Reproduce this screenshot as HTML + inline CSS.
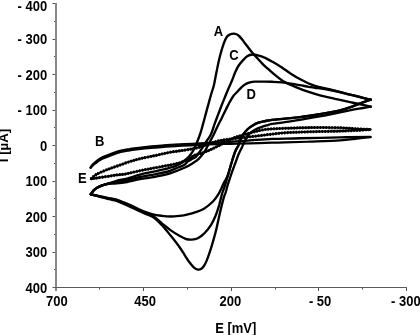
<!DOCTYPE html>
<html><head><meta charset="utf-8"><style>
html,body{margin:0;padding:0;background:#fff;width:420px;height:335px;overflow:hidden}
svg{display:block;filter:blur(0.35px)}
text{font-family:"Liberation Sans",sans-serif;font-weight:bold;font-size:13.0px;fill:#000}
</style></head><body>
<svg width="420" height="335" viewBox="0 0 420 335">
<rect width="420" height="335" fill="#fff"/>
<g stroke="#505050" stroke-width="1" fill="none"><line x1="52.5" y1="3.50" x2="56" y2="3.50"/><line x1="54.0" y1="21.50" x2="56" y2="21.50"/><line x1="52.5" y1="39.50" x2="56" y2="39.50"/><line x1="54.0" y1="56.50" x2="56" y2="56.50"/><line x1="52.5" y1="74.50" x2="56" y2="74.50"/><line x1="54.0" y1="92.50" x2="56" y2="92.50"/><line x1="52.5" y1="110.50" x2="56" y2="110.50"/><line x1="54.0" y1="127.50" x2="56" y2="127.50"/><line x1="52.5" y1="145.50" x2="56" y2="145.50"/><line x1="54.0" y1="163.50" x2="56" y2="163.50"/><line x1="52.5" y1="181.50" x2="56" y2="181.50"/><line x1="54.0" y1="198.50" x2="56" y2="198.50"/><line x1="52.5" y1="216.50" x2="56" y2="216.50"/><line x1="54.0" y1="234.50" x2="56" y2="234.50"/><line x1="52.5" y1="252.50" x2="56" y2="252.50"/><line x1="54.0" y1="269.50" x2="56" y2="269.50"/><line x1="52.5" y1="287.50" x2="56" y2="287.50"/><line x1="56.50" y1="287" x2="56.50" y2="291"/><line x1="99.50" y1="287" x2="99.50" y2="289.5"/><line x1="143.50" y1="287" x2="143.50" y2="291"/><line x1="187.50" y1="287" x2="187.50" y2="289.5"/><line x1="231.50" y1="287" x2="231.50" y2="291"/><line x1="275.50" y1="287" x2="275.50" y2="289.5"/><line x1="318.50" y1="287" x2="318.50" y2="291"/><line x1="362.50" y1="287" x2="362.50" y2="289.5"/><line x1="406.50" y1="287" x2="406.50" y2="291"/></g>
<line x1="56" y1="3" x2="56" y2="291" stroke="#888" stroke-width="2"/>
<line x1="53" y1="287.5" x2="407" y2="287.5" stroke="#5a5a5a" stroke-width="1.2"/>
<g fill="none" stroke="#000" stroke-linecap="round" stroke-linejoin="round">
<path d="M90.6,167.6 C90.9,167.1 91.8,165.7 92.6,164.8 C93.4,163.9 94.6,162.9 95.7,162.0 C96.8,161.1 97.8,160.3 99.0,159.5 C100.2,158.7 100.8,158.2 102.9,157.2 C105.1,156.2 108.9,154.7 111.9,153.6 C114.9,152.5 117.8,151.4 120.8,150.7 C123.8,149.9 125.8,149.7 129.8,149.1 C133.8,148.5 137.5,147.8 145.0,147.1 C152.5,146.4 164.2,145.5 175.0,144.8 C185.8,144.1 200.8,143.4 210.0,142.9 C219.2,142.4 223.3,142.2 230.0,141.8 C236.7,141.4 243.0,140.9 250.0,140.4 C257.0,139.9 263.7,139.2 272.0,138.9 C280.3,138.6 288.7,138.6 300.0,138.3 C311.3,138.1 328.2,137.6 340.0,137.4 C351.8,137.2 365.4,137.1 370.5,137.0" stroke-width="2.4"/>
<path d="M370.5,137.0 C367.9,137.3 360.1,138.2 355.0,138.8 C349.9,139.4 347.5,139.8 340.0,140.3 C332.5,140.8 319.2,141.3 310.0,141.7 C300.8,142.0 291.3,142.2 285.0,142.4 C278.7,142.6 277.8,142.5 272.0,142.7 C266.2,142.8 257.0,143.1 250.0,143.3 C243.0,143.5 236.7,143.6 230.0,143.8 C223.3,144.0 219.2,143.9 210.0,144.3 C200.8,144.7 185.8,145.4 175.0,146.1 C164.2,146.8 152.5,147.7 145.0,148.4 C137.5,149.1 133.8,149.8 129.8,150.4 C125.8,151.0 123.8,151.2 120.8,152.0 C117.8,152.8 114.9,153.8 111.9,154.9 C108.9,156.0 105.1,157.6 102.9,158.5 C100.8,159.4 100.2,159.8 99.0,160.6 C97.8,161.4 96.8,162.3 95.7,163.2 C94.6,164.0 93.4,164.9 92.6,165.7 C91.8,166.5 90.9,167.5 90.6,167.8" stroke-width="2.2"/>
<path d="M90.9,179.0 C91.8,178.2 93.7,176.0 96.4,174.4 C99.1,172.8 103.4,171.1 106.9,169.7 C110.4,168.3 113.5,167.3 117.3,166.0 C121.1,164.7 126.0,162.8 129.8,161.6 C133.6,160.4 135.8,159.7 140.0,158.7 C144.2,157.7 150.0,156.7 155.0,155.6 C160.0,154.5 164.2,153.4 170.0,152.3 C175.8,151.2 185.0,150.2 190.0,149.3 C195.0,148.4 196.7,148.0 200.0,147.0 C203.3,146.0 206.7,144.6 210.0,143.5 C213.3,142.4 215.8,141.3 220.0,140.5 C224.2,139.7 229.2,139.2 235.0,138.5 C240.8,137.8 246.7,137.1 255.0,136.2 C263.3,135.2 275.8,133.5 285.0,132.8 C294.2,132.1 300.8,132.1 310.0,131.8 C319.2,131.5 332.5,131.3 340.0,131.1 C347.5,130.9 349.9,130.8 355.0,130.5 C360.1,130.2 367.9,129.7 370.5,129.5" stroke-width="2.1"/>
<path d="M90.9,179.0 C91.8,178.2 93.7,176.0 96.4,174.4 C99.1,172.8 103.4,171.1 106.9,169.7 C110.4,168.3 113.5,167.3 117.3,166.0 C121.1,164.7 126.0,162.8 129.8,161.6 C133.6,160.4 135.8,159.7 140.0,158.7 C144.2,157.7 150.0,156.7 155.0,155.6 C160.0,154.5 164.2,153.4 170.0,152.3 C175.8,151.2 185.0,150.2 190.0,149.3 C195.0,148.4 196.7,148.0 200.0,147.0 C203.3,146.0 206.7,144.6 210.0,143.5 C213.3,142.4 215.8,141.3 220.0,140.5 C224.2,139.7 229.2,139.2 235.0,138.5 C240.8,137.8 246.7,137.1 255.0,136.2 C263.3,135.2 275.8,133.5 285.0,132.8 C294.2,132.1 300.8,132.1 310.0,131.8 C319.2,131.5 332.5,131.3 340.0,131.1 C347.5,130.9 349.9,130.8 355.0,130.5 C360.1,130.2 367.9,129.7 370.5,129.5" stroke-width="3.0" stroke-dasharray="1.6 1.3" stroke-linecap="butt"/>
<path d="M370.5,129.5 C367.9,129.4 360.1,129.0 355.0,128.7 C349.9,128.4 347.5,128.0 340.0,127.8 C332.5,127.6 319.2,127.5 310.0,127.6 C300.8,127.7 292.5,128.0 285.0,128.3 C277.5,128.6 270.8,128.7 265.0,129.5 C259.2,130.3 255.0,131.7 250.0,133.0 C245.0,134.3 239.2,135.9 235.0,137.5 C230.8,139.1 228.8,140.6 225.0,142.5 C221.2,144.4 215.7,147.3 212.0,149.0 C208.3,150.7 205.8,151.8 203.0,152.8 C200.2,153.8 197.8,153.7 195.0,155.0 C192.2,156.3 189.7,158.9 186.4,160.4 C183.1,161.9 180.2,162.8 175.0,164.0 C169.8,165.2 160.8,166.7 155.0,167.8 C149.2,168.9 144.8,169.7 140.0,170.7 C135.2,171.7 129.8,173.2 126.0,173.9 C122.2,174.6 120.5,174.5 117.3,174.9 C114.1,175.3 110.4,176.0 106.9,176.5 C103.4,177.0 99.1,177.7 96.4,178.1 C93.7,178.5 91.8,178.8 90.9,179.0" stroke-width="2.1"/>
<path d="M370.5,129.5 C367.9,129.4 360.1,129.0 355.0,128.7 C349.9,128.4 347.5,128.0 340.0,127.8 C332.5,127.6 319.2,127.5 310.0,127.6 C300.8,127.7 292.5,128.0 285.0,128.3 C277.5,128.6 270.8,128.7 265.0,129.5 C259.2,130.3 255.0,131.7 250.0,133.0 C245.0,134.3 239.2,135.9 235.0,137.5 C230.8,139.1 228.8,140.6 225.0,142.5 C221.2,144.4 215.7,147.3 212.0,149.0 C208.3,150.7 205.8,151.8 203.0,152.8 C200.2,153.8 197.8,153.7 195.0,155.0 C192.2,156.3 189.7,158.9 186.4,160.4 C183.1,161.9 180.2,162.8 175.0,164.0 C169.8,165.2 160.8,166.7 155.0,167.8 C149.2,168.9 144.8,169.7 140.0,170.7 C135.2,171.7 129.8,173.2 126.0,173.9 C122.2,174.6 120.5,174.5 117.3,174.9 C114.1,175.3 110.4,176.0 106.9,176.5 C103.4,177.0 99.1,177.7 96.4,178.1 C93.7,178.5 91.8,178.8 90.9,179.0" stroke-width="3.0" stroke-dasharray="1.6 1.3" stroke-linecap="butt"/>
<path d="M90.8,194.3 C91.3,193.7 92.6,191.5 93.7,190.4 C94.8,189.3 96.1,188.4 97.5,187.6 C98.9,186.8 100.7,186.0 102.3,185.4 C103.9,184.8 104.6,184.8 107.0,184.0 C109.4,183.2 113.3,181.7 116.6,180.8 C119.9,179.9 123.1,179.6 127.0,178.6 C130.9,177.6 135.3,175.8 140.0,174.6 C144.7,173.4 150.3,172.4 155.0,171.3 C159.7,170.2 164.3,169.3 168.0,168.3 C171.7,167.3 174.5,166.6 177.0,165.5 C179.5,164.4 181.0,163.3 183.0,161.8 C185.0,160.3 187.2,158.6 189.0,156.5 C190.8,154.4 192.2,152.9 194.0,149.3 C195.8,145.7 198.3,139.1 199.8,135.0 C201.3,130.9 201.8,128.4 202.8,124.9 C203.8,121.4 204.8,117.5 205.7,114.1 C206.6,110.7 207.5,107.4 208.3,104.6 C209.1,101.8 209.7,99.4 210.3,97.2 C210.9,95.0 211.3,93.7 212.0,91.5 C212.7,89.3 213.5,87.1 214.2,83.9 C214.9,80.7 215.6,76.3 216.4,72.5 C217.2,68.7 218.1,64.0 218.8,61.0 C219.5,58.0 219.6,57.4 220.4,54.5 C221.2,51.6 222.7,46.4 223.8,43.4 C224.9,40.4 225.8,38.2 226.9,36.7 C228.0,35.2 229.4,34.7 230.5,34.2 C231.6,33.7 232.5,33.6 233.5,33.6 C234.5,33.6 235.6,33.9 236.5,34.3 C237.4,34.7 238.1,35.2 239.0,36.0 C239.9,36.8 241.0,38.1 242.0,39.3 C243.0,40.5 243.6,41.5 245.1,43.4 C246.6,45.3 249.1,48.7 250.9,50.9 C252.7,53.1 254.0,54.5 256.0,56.8 C258.0,59.0 261.4,62.7 263.0,64.4 C264.6,66.1 264.0,65.2 265.7,66.8 C267.4,68.3 270.5,71.3 273.4,73.7 C276.2,76.1 279.8,79.0 282.8,80.9 C285.8,82.8 288.6,84.0 291.5,85.3 C294.4,86.6 297.3,87.8 300.2,88.9 C303.1,90.0 305.4,90.8 308.7,91.9 C312.0,93.0 315.6,94.2 320.0,95.4 C324.4,96.6 330.0,97.7 335.0,98.8 C340.0,99.9 345.3,101.1 350.0,102.1 C354.7,103.1 359.5,104.1 363.0,104.9 C366.5,105.7 369.5,106.4 370.8,106.7" stroke-width="2.35"/>
<path d="M370.8,106.7 C369.5,106.9 366.3,107.4 363.0,108.0 C359.7,108.6 355.8,109.1 350.8,110.1 C345.8,111.1 338.9,112.6 332.9,113.8 C326.9,115.0 320.5,116.2 315.0,117.2 C309.5,118.2 305.0,119.0 300.0,119.8 C295.0,120.6 289.7,121.5 285.0,122.2 C280.3,122.9 274.9,123.4 272.0,123.9 C269.1,124.4 269.5,124.6 267.8,125.1 C266.1,125.6 263.9,126.2 261.9,126.9 C259.9,127.6 257.7,128.4 255.9,129.3 C254.1,130.2 252.5,131.2 251.1,132.3 C249.7,133.4 248.7,134.5 247.6,136.0 C246.5,137.5 245.5,139.6 244.6,141.5 C243.7,143.4 243.0,145.1 242.0,147.2 C241.0,149.3 239.8,151.3 238.7,154.1 C237.5,156.8 236.4,160.2 235.1,163.7 C233.8,167.2 232.2,171.4 231.0,175.0 C229.8,178.6 228.6,182.0 227.7,185.0 C226.8,188.0 226.2,190.8 225.5,193.0 C224.8,195.2 224.6,194.7 223.7,197.9 C222.8,201.1 221.3,207.1 220.1,212.2 C218.9,217.3 217.6,223.7 216.5,228.4 C215.4,233.1 214.4,236.6 213.3,240.5 C212.2,244.4 211.0,248.4 209.9,251.7 C208.8,255.0 207.9,257.7 206.9,260.1 C205.9,262.5 204.9,264.5 203.9,266.0 C202.9,267.5 201.9,268.5 200.9,269.1 C199.9,269.7 199.0,269.8 197.9,269.6 C196.8,269.4 195.7,269.0 194.3,267.8 C192.9,266.6 191.2,264.6 189.6,262.5 C188.0,260.4 186.4,257.8 184.8,255.3 C183.2,252.8 182.1,250.8 179.8,247.5 C177.5,244.2 173.8,239.5 170.8,235.8 C167.8,232.1 164.9,228.2 161.9,225.1 C158.9,222.0 155.8,218.9 153.0,217.0 C150.2,215.1 147.6,214.7 145.1,213.6 C142.6,212.5 140.4,211.5 138.0,210.4 C135.6,209.3 133.3,208.2 130.9,207.1 C128.5,206.0 126.1,205.0 123.7,204.0 C121.3,203.0 119.0,201.7 116.6,200.9 C114.2,200.1 111.8,199.8 109.4,199.2 C107.0,198.6 104.5,198.0 102.3,197.4 C100.1,196.8 98.4,196.3 96.5,195.8 C94.6,195.3 91.8,194.6 90.8,194.3" stroke-width="2.35"/>
<path d="M90.8,194.3 C91.3,193.7 92.6,191.5 93.7,190.4 C94.8,189.3 96.1,188.4 97.5,187.6 C98.9,186.8 100.7,186.0 102.3,185.4 C103.9,184.8 104.6,184.5 107.0,184.0 C109.4,183.5 113.3,182.8 116.6,182.2 C119.9,181.6 123.1,181.2 127.0,180.3 C130.9,179.4 135.3,178.0 140.0,177.0 C144.7,176.0 150.3,175.2 155.0,174.3 C159.7,173.4 164.2,172.6 168.0,171.5 C171.8,170.4 175.3,168.6 178.0,167.5 C180.7,166.4 182.3,166.0 184.0,165.0 C185.7,164.0 186.6,162.3 188.0,161.3 C189.4,160.3 191.1,159.6 192.5,158.8 C193.9,158.0 194.7,158.3 196.3,156.5 C197.9,154.7 200.4,150.8 202.2,148.1 C204.0,145.4 205.5,142.8 207.0,140.5 C208.5,138.2 209.8,136.8 211.1,134.0 C212.4,131.2 213.5,127.0 214.7,123.7 C215.9,120.4 217.1,117.3 218.3,114.1 C219.5,110.9 220.8,107.5 221.9,104.6 C223.1,101.7 224.1,99.2 225.2,96.5 C226.3,93.8 227.3,91.2 228.5,88.5 C229.7,85.8 231.0,83.0 232.1,80.3 C233.2,77.6 234.0,75.0 235.1,72.5 C236.2,70.0 237.4,67.5 238.7,65.5 C240.0,63.5 241.6,61.8 243.0,60.3 C244.4,58.8 245.6,57.2 247.2,56.2 C248.8,55.2 250.8,54.6 252.6,54.5 C254.4,54.4 255.9,54.9 257.9,55.4 C259.9,55.9 262.0,56.5 264.5,57.6 C267.0,58.7 270.0,60.4 272.9,62.0 C275.8,63.6 278.9,65.5 281.9,67.4 C284.9,69.4 287.8,71.8 290.8,73.7 C293.8,75.6 296.8,77.4 299.8,79.0 C302.8,80.6 306.2,82.4 308.7,83.5 C311.2,84.6 311.4,84.8 315.0,85.8 C318.6,86.8 324.2,88.0 330.0,89.5 C335.8,91.0 344.5,93.2 350.0,94.6 C355.5,96.0 359.5,96.9 363.0,97.8 C366.5,98.7 369.5,99.4 370.8,99.7" stroke-width="2.35"/>
<path d="M370.8,99.7 C369.5,100.1 366.1,101.2 363.0,102.3 C359.9,103.4 355.8,105.2 352.0,106.6 C348.2,108.0 343.7,109.5 340.0,110.5 C336.3,111.5 334.2,111.7 330.0,112.4 C325.8,113.2 320.0,114.2 315.0,115.0 C310.0,115.8 305.0,116.6 300.0,117.2 C295.0,117.8 289.7,118.3 285.0,118.7 C280.3,119.1 275.3,119.4 272.0,119.8 C268.7,120.2 267.7,120.5 265.4,121.0 C263.1,121.5 260.5,121.9 258.3,122.7 C256.1,123.5 254.1,124.6 252.3,125.7 C250.5,126.8 248.8,128.0 247.3,129.5 C245.8,131.0 244.3,132.8 243.2,134.5 C242.1,136.2 241.4,137.7 240.6,139.6 C239.8,141.5 239.2,143.7 238.3,145.7 C237.4,147.7 236.2,148.9 235.1,151.7 C234.0,154.5 232.8,158.6 231.6,162.5 C230.4,166.4 229.1,171.2 228.0,175.0 C226.9,178.8 226.0,182.2 225.0,185.4 C224.0,188.6 222.9,191.0 221.9,194.3 C220.9,197.6 220.2,201.5 219.2,205.1 C218.1,208.7 216.9,212.5 215.6,215.8 C214.2,219.1 213.0,221.8 211.1,224.8 C209.2,227.8 206.2,231.4 204.0,233.7 C201.8,235.9 199.9,237.3 197.9,238.3 C195.9,239.3 193.9,239.5 191.9,239.6 C189.9,239.7 188.0,239.6 186.0,239.0 C184.0,238.4 182.3,237.4 179.8,236.0 C177.3,234.6 173.8,232.5 170.8,230.4 C167.8,228.3 164.9,225.7 161.9,223.3 C158.9,220.9 155.7,217.9 152.9,216.1 C150.1,214.3 147.6,213.8 145.1,212.7 C142.6,211.6 140.4,210.6 138.0,209.5 C135.6,208.4 133.3,207.3 130.9,206.2 C128.5,205.1 126.1,204.1 123.7,203.1 C121.3,202.1 119.0,200.9 116.6,200.2 C114.2,199.4 111.8,199.1 109.4,198.6 C107.0,198.1 104.5,197.6 102.3,197.1 C100.1,196.6 98.4,196.1 96.5,195.6 C94.6,195.1 91.8,194.5 90.8,194.3" stroke-width="2.35"/>
<path d="M90.8,194.3 C91.3,193.7 92.6,191.5 93.7,190.4 C94.8,189.3 96.1,188.4 97.5,187.6 C98.9,186.8 100.7,186.0 102.3,185.4 C103.9,184.8 104.6,184.3 107.0,184.0 C109.4,183.7 113.3,183.7 116.6,183.4 C119.9,183.1 123.1,182.7 127.0,182.0 C130.9,181.3 135.3,180.1 140.0,179.2 C144.7,178.3 150.0,177.8 155.0,176.8 C160.0,175.8 165.0,174.9 170.0,173.3 C175.0,171.8 181.2,169.2 185.0,167.5 C188.8,165.8 190.7,164.4 193.0,163.0 C195.3,161.6 196.8,160.8 198.7,158.9 C200.6,157.0 202.8,154.3 204.6,151.7 C206.3,149.0 207.7,145.8 209.2,143.0 C210.7,140.2 212.1,137.8 213.5,135.0 C214.9,132.2 216.3,128.9 217.7,126.0 C219.1,123.1 220.5,120.5 221.9,117.7 C223.3,114.9 224.7,111.9 226.0,109.3 C227.3,106.7 228.4,104.4 229.6,102.2 C230.8,100.0 232.0,97.9 233.2,96.2 C234.4,94.5 235.6,93.6 236.8,92.3 C238.0,91.0 239.1,89.6 240.4,88.3 C241.7,87.0 243.0,85.7 244.6,84.7 C246.2,83.7 248.3,82.9 250.0,82.4 C251.7,81.9 252.7,81.8 255.0,81.7 C257.3,81.6 261.0,81.6 264.0,81.6 C267.0,81.6 269.9,81.7 272.9,81.8 C275.9,81.9 278.9,82.1 281.9,82.4 C284.9,82.7 287.8,83.1 290.8,83.6 C293.8,84.1 296.8,84.7 299.8,85.2 C302.8,85.7 306.2,86.4 308.7,86.8 C311.2,87.2 311.4,87.3 315.0,87.8 C318.6,88.3 324.2,88.9 330.0,90.0 C335.8,91.1 344.5,93.3 350.0,94.6 C355.5,95.9 359.5,96.9 363.0,97.8 C366.5,98.7 369.5,99.4 370.8,99.7" stroke-width="2.35"/>
<path d="M370.8,99.7 C369.5,100.1 366.1,101.2 363.0,102.3 C359.9,103.4 355.8,105.3 352.0,106.6 C348.2,107.9 343.7,109.3 340.0,110.3 C336.3,111.3 334.2,111.6 330.0,112.4 C325.8,113.2 320.0,114.2 315.0,115.0 C310.0,115.8 305.0,116.6 300.0,117.2 C295.0,117.8 289.7,118.3 285.0,118.7 C280.3,119.1 275.3,119.4 272.0,119.8 C268.7,120.2 267.7,120.5 265.4,121.0 C263.1,121.5 260.5,121.9 258.3,122.7 C256.1,123.5 254.1,124.6 252.3,125.7 C250.5,126.8 248.8,128.0 247.3,129.5 C245.8,131.0 244.3,132.8 243.2,134.5 C242.1,136.2 241.4,137.7 240.6,139.6 C239.8,141.5 239.2,143.7 238.3,145.7 C237.4,147.7 236.2,148.9 235.1,151.7 C234.0,154.5 232.8,158.6 231.6,162.5 C230.4,166.4 229.3,171.6 228.0,175.0 C226.7,178.4 224.8,181.0 223.8,183.0 C222.8,185.0 222.8,185.3 221.9,187.2 C221.0,189.1 219.8,191.9 218.3,194.3 C216.8,196.7 215.3,199.1 212.9,201.5 C210.5,203.9 207.0,206.9 204.0,208.7 C201.0,210.5 197.8,211.4 195.0,212.4 C192.2,213.4 189.5,214.0 187.0,214.6 C184.5,215.2 182.5,215.5 179.8,215.8 C177.1,216.1 173.8,216.5 170.8,216.5 C167.8,216.5 164.9,216.2 161.9,215.8 C158.9,215.4 155.7,215.0 152.9,214.3 C150.1,213.7 147.6,212.8 145.1,211.9 C142.6,211.0 140.4,209.8 138.0,208.7 C135.6,207.6 133.3,206.5 130.9,205.4 C128.5,204.3 126.1,203.3 123.7,202.3 C121.3,201.3 119.0,200.3 116.6,199.6 C114.2,198.9 111.8,198.7 109.4,198.2 C107.0,197.7 104.5,197.2 102.3,196.7 C100.1,196.2 98.4,195.8 96.5,195.4 C94.6,195.0 91.8,194.5 90.8,194.3" stroke-width="2.35"/>
</g>
<g><text transform="translate(47.2,10.8) scale(1.0,1.06)" text-anchor="end">- 400</text><text transform="translate(47.2,44.0) scale(1.0,1.06)" text-anchor="end">- 300</text><text transform="translate(47.2,79.5) scale(1.0,1.06)" text-anchor="end">- 200</text><text transform="translate(47.2,115.0) scale(1.0,1.06)" text-anchor="end">- 100</text><text transform="translate(47.2,150.5) scale(1.0,1.06)" text-anchor="end">0</text><text transform="translate(47.2,186.0) scale(1.0,1.06)" text-anchor="end">100</text><text transform="translate(47.2,221.5) scale(1.0,1.06)" text-anchor="end">200</text><text transform="translate(47.2,257.0) scale(1.0,1.06)" text-anchor="end">300</text><text transform="translate(47.2,292.5) scale(1.0,1.06)" text-anchor="end">400</text></g>
<g><text transform="translate(56.8,305.5) scale(1.0,1.06)" text-anchor="middle">700</text><text transform="translate(145.1,305.5) scale(1.0,1.06)" text-anchor="middle">450</text><text transform="translate(230.4,305.5) scale(1.0,1.06)" text-anchor="middle">200</text><text transform="translate(320.1,305.5) scale(1.0,1.06)" text-anchor="middle">- 50</text><text transform="translate(405.9,305.5) scale(1.0,1.06)" text-anchor="middle">- 300</text></g>
<text transform="translate(218.4,35.9) scale(1,1.06)" text-anchor="middle">A</text><text transform="translate(99.6,145.8) scale(1,1.06)" text-anchor="middle">B</text><text transform="translate(233.9,60.1) scale(1,1.06)" text-anchor="middle">C</text><text transform="translate(251.2,99.3) scale(1,1.06)" text-anchor="middle">D</text><text transform="translate(82.3,182.9) scale(1,1.06)" text-anchor="middle">E</text>
<text transform="translate(235.7,332.8) scale(1.0,1.06)" text-anchor="middle">E [mV]</text>
<text transform="translate(8.3,145.5) rotate(-90)" text-anchor="middle" style="font-size:13.3px">I [&#181;A]</text>
</svg>
</body></html>
